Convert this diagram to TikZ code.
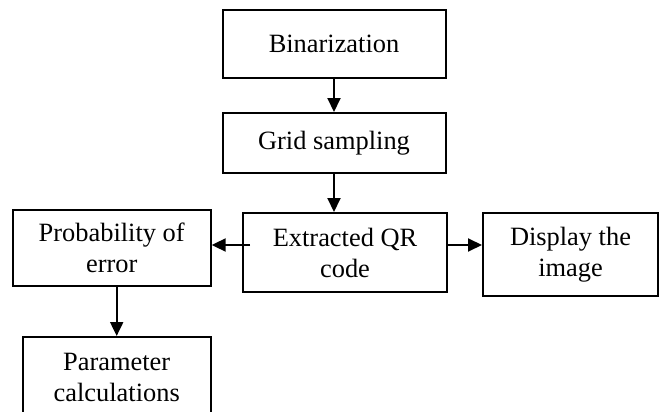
\documentclass[tikz,border=0pt]{standalone}
\usepackage{fontspec}
\setmainfont{Liberation Serif}
\usepackage{tikz}
\usetikzlibrary{arrows.meta,positioning}
\tikzset{
	>={Triangle[length=7pt,width=6.5pt]},
	box/.style={draw,rectangle,align=center,line width=1pt,inner sep=0pt,
		font=\fontsize{13.2}{15.5}\selectfont},
	every new ->/.style={shorten >=0pt}
}
\begin{document}
\begin{tikzpicture}[x=0.5pt,y=-0.5pt,line width=1pt]
			\clip (0,0) rectangle (660,412);
			\node[box,minimum width=111.5pt,minimum height=34pt] (bin) at (334,44) {Binarization};
			\node[box,minimum width=111.5pt,minimum height=30pt] (grid) at (334,143) {Grid sampling};
			\node[box,minimum width=102pt,minimum height=39.5pt] (ext) at (345,252.5) {Extracted QR\\code};
			\node[box,minimum width=99pt,minimum height=38pt] (prob) at (111.7,248) {Probability of\\error};
			\node[box,minimum width=87.5pt,minimum height=41.5pt] (disp) at (570.5,254.5) {Display the\\image};
			\node[box,minimum width=94pt,minimum height=40pt] (par) at (116.7,377) {Parameter\\calculations};
			\node[coordinate] (sext) at (345,245) {};
			
			\draw[->] (bin) -- (grid);
			\draw[->] (grid) -- (grid.south |- ext.north);
			\draw[->] ([xshift=4pt]ext.west |- sext) -- (prob.east |- sext);
			\draw[->] (ext.east |- sext) -- (disp.west |- sext);
			\draw[->] (par.north |- prob.south) -- (par.north);
		\end{tikzpicture}
\end{document}
